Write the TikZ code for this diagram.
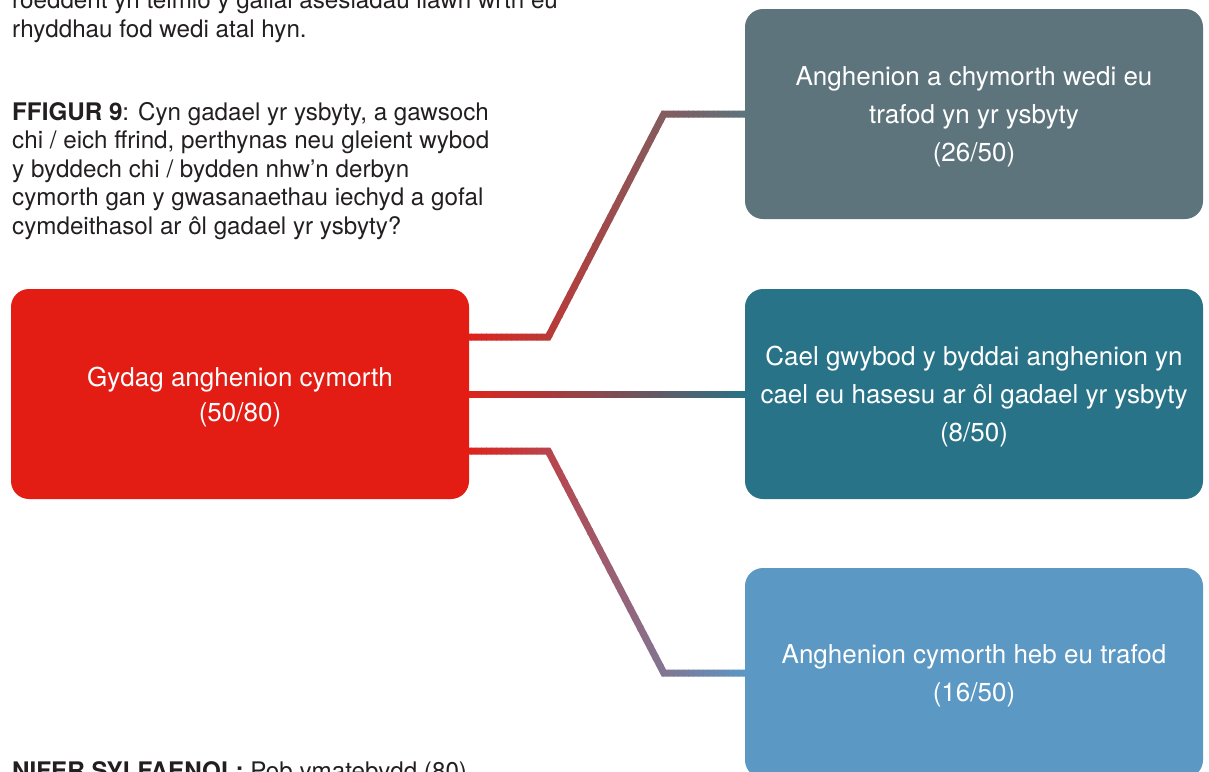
\documentclass[tikz,border=0pt]{standalone}
\usepackage{fontspec}
\setmainfont{TeX Gyre Heros}
\usetikzlibrary{calc}
\definecolor{boxred}{HTML}{E31C14}
\definecolor{boxgrey}{HTML}{5D747C}
\definecolor{boxteal}{HTML}{287387}
\definecolor{boxblue}{HTML}{5B98C4}
\definecolor{linered}{HTML}{DE231C}
\definecolor{textdark}{HTML}{231F20}
\newcommand{\gradconn}[3]{%
  \foreach \i in {0,...,55}{%
    \pgfmathsetmacro{\xa}{466+\i*5.05}%
    \pgfmathsetmacro{\xb}{\xa+5.6}%
    \pgfmathsetmacro{\pp}{\i*100/55}%
    \colorlet{conntmp}{#3!\pp!#2}%
    \begin{scope}
      \clip (\xa,-10) rectangle (\xb,790);
      \draw[conn, draw=conntmp] #1;
    \end{scope}
  }%
}
\begin{document}
\begin{tikzpicture}[x=1pt,y=-1pt,
  box/.style={rounded corners=18pt, minimum width=458pt, minimum height=210pt,
    inner sep=0pt, text=white, align=center, text depth=-4pt,
    font=\fontsize{26}{38}\selectfont},
  para/.style={align=left, inner sep=0pt, text=textdark, font=\fontsize{24.2}{28.5}\selectfont},
  conn/.style={line width=7pt, line join=miter}]
\useasboundingbox (0,0) rectangle (1209,771);

\node[box, fill=boxred, font=\fontsize{26}{35}\selectfont] (src) at (240,394) {Gydag anghenion cymorth\\(50/80)};
\node[box, fill=boxgrey] (t1) at (974,114) {Anghenion a chymorth wedi eu\\trafod yn yr ysbyty\\(26/50)};
\node[box, fill=boxteal] (t2) at (974,394) {Cael gwybod y byddai anghenion yn\\cael eu hasesu ar ôl gadael yr ysbyty\\(8/50)};
\node[box, fill=boxblue] (t3) at (974,673) {Anghenion cymorth heb eu trafod\\(16/50)};

\coordinate (s1) at ($(src.east)+(0,-57)$);
\coordinate (s1k) at ($(s1)+(79,0)$);
\coordinate (t1k) at ($(t1.west)+(-81,0)$);
\coordinate (s3) at ($(src.east)+(0,57)$);
\coordinate (s3k) at ($(s3)+(79,0)$);
\coordinate (t3k) at ($(t3.west)+(-81,0)$);

\gradconn{(s1) -- (s1k) -- (t1k) -- (t1.west)}{linered}{boxgrey}
\gradconn{(src.east) -- (t2.west)}{linered}{boxteal}
\gradconn{(s3) -- (s3k) -- (t3k) -- (t3.west)}{linered}{boxblue}

\node[para, anchor=base west] (intro) at (12,37.5) {roeddent yn teimlo y gallai asesiadau llawn wrth eu\\rhyddhau fod wedi atal hyn.};
\node[para, anchor=base west] (q) at (12,234) {\textbf{FFIGUR 9}: Cyn gadael yr ysbyty, a gawsoch\\chi / eich ffrind, perthynas neu gleient wybod\\y byddech chi / bydden nhw’n derbyn\\cymorth gan y gwasanaethau iechyd a gofal\\cymdeithasol ar ôl gadael yr ysbyty?};
\node[para, anchor=base west] (base) at (12,779) {\textbf{NIFER SYLFAENOL:} Pob ymatebydd (80)};
\end{tikzpicture}
\end{document}
